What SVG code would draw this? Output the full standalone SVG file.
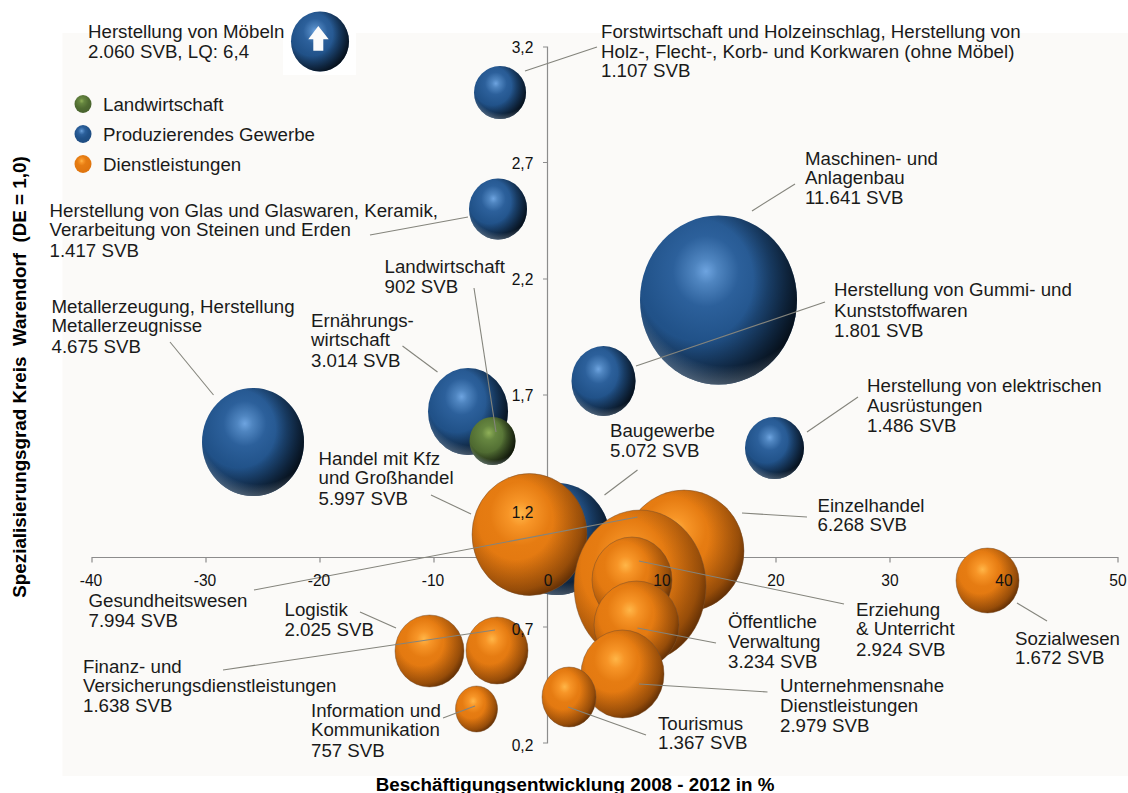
<svg xmlns="http://www.w3.org/2000/svg" width="1128" height="793" viewBox="0 0 1128 793">
<style>
text{font-family:"Liberation Sans",Arial,sans-serif;font-size:18.7px;fill:#1a1a1a}
.t{font-size:15.6px;fill:#111}
.m{text-anchor:middle}
.b{font-weight:bold;font-size:18.8px;fill:#000}
.ax{stroke:#8c8c8c;stroke-width:1.2;fill:none}
.ld{stroke:#84847c;stroke-width:1.1;fill:none}
.blue{fill:url(#gb)}.or{fill:url(#go)}.gr{fill:url(#gg)}
.sh{fill:url(#sh)}.rim{fill:url(#rim)}.so{fill:url(#so);stroke:#6a4a30;stroke-opacity:.55;stroke-width:.8}
</style>
<defs>
<radialGradient id="gb" cx="0.42" cy="0.33" r="0.75"><stop offset="0" stop-color="#6ea4e0"/><stop offset="0.1" stop-color="#4f85c0"/><stop offset="0.28" stop-color="#2c609b"/><stop offset="0.55" stop-color="#215289"/><stop offset="1" stop-color="#1d4a7e"/></radialGradient>
<radialGradient id="go" cx="0.42" cy="0.33" r="0.75"><stop offset="0" stop-color="#ffb648"/><stop offset="0.14" stop-color="#f79527"/><stop offset="0.35" stop-color="#e67c12"/><stop offset="1" stop-color="#dd720d"/></radialGradient>
<radialGradient id="gg" cx="0.42" cy="0.33" r="0.75"><stop offset="0" stop-color="#8fb058"/><stop offset="0.2" stop-color="#668640"/><stop offset="0.55" stop-color="#506c32"/><stop offset="1" stop-color="#46602c"/></radialGradient>
<radialGradient id="sh" cx="0.36" cy="0.38" r="0.72"><stop offset="0.5" stop-color="#000" stop-opacity="0"/><stop offset="0.8" stop-color="#000" stop-opacity="0.55"/><stop offset="1" stop-color="#000" stop-opacity="0.9"/></radialGradient>
<radialGradient id="so" cx="0.38" cy="0.38" r="0.72"><stop offset="0.45" stop-color="#1e0a00" stop-opacity="0"/><stop offset="0.8" stop-color="#1e0a00" stop-opacity="0.38"/><stop offset="1" stop-color="#1e0a00" stop-opacity="0.8"/></radialGradient>
<radialGradient id="rim" cx="0.55" cy="0.3" r="0.72"><stop offset="0.82" stop-color="#b8cfe6" stop-opacity="0"/><stop offset="1" stop-color="#b8cfe6" stop-opacity="0.4"/></radialGradient>
</defs>
<rect x="62.5" y="33" width="1065.5" height="743" fill="#fbfaf8"/>
<rect x="283" y="33" width="73" height="42" fill="#fff"/>
<g id="axes">
<path class="ax" d="M92 562.5V557.5H1118V562.5M206 557.5V562.5M320 557.5V562.5M434 557.5V562.5M548 557.5V562.5M662 557.5V562.5M776 557.5V562.5M890 557.5V562.5M1004 557.5V562.5"/>
<path class="ax" d="M543 47H547.5V743H543M543 162.500H547.5M543 279H547.500M543 395H547.5M543 511H547.500M543 627H547.5"/>
</g>
<g id="bubbles">
<g id="n-moebeln"><ellipse class="blue" cx="320" cy="41.500" rx="29" ry="30"/><ellipse class="sh" cx="320" cy="41.500" rx="29" ry="30"/><polygon points="318.300,26 328.700,39.300 323.300,39.300 323.300,50.700 313.300,50.700 313.300,39.300 308.300,39.300" fill="#fbfbfb"/></g>
<g id="n-forst"><ellipse class="blue" cx="500" cy="92.500" rx="26" ry="26.500"/><ellipse class="sh" cx="500" cy="92.500" rx="26" ry="26.500"/><ellipse class="rim" cx="500" cy="92.500" rx="26" ry="26.500"/></g>
<g id="n-glas"><ellipse class="blue" cx="498" cy="209" rx="29" ry="30.500"/><ellipse class="sh" cx="498" cy="209" rx="29" ry="30.500"/><ellipse class="rim" cx="498" cy="209" rx="29" ry="30.500"/></g>
<g id="n-maschinen"><ellipse class="blue" cx="718.500" cy="300" rx="78.500" ry="84.500"/><ellipse class="sh" cx="718.500" cy="300" rx="78.500" ry="84.500"/><ellipse class="rim" cx="718.500" cy="300" rx="78.500" ry="84.500"/></g>
<g id="n-gummi"><ellipse class="blue" cx="603.500" cy="381" rx="32" ry="35"/><ellipse class="sh" cx="603.500" cy="381" rx="32" ry="35"/><ellipse class="rim" cx="603.500" cy="381" rx="32" ry="35"/></g>
<g id="n-metall"><ellipse class="blue" cx="253" cy="442" rx="51" ry="54"/><ellipse class="sh" cx="253" cy="442" rx="51" ry="54"/><ellipse class="rim" cx="253" cy="442" rx="51" ry="54"/></g>
<g id="n-ernaehrung"><ellipse class="blue" cx="468" cy="411.500" rx="40" ry="43.500"/><ellipse class="sh" cx="468" cy="411.500" rx="40" ry="43.500"/><ellipse class="rim" cx="468" cy="411.500" rx="40" ry="43.500"/></g>
<g id="n-landwirtschaft"><ellipse class="gr" cx="492.500" cy="441" rx="23" ry="24"/><ellipse class="sh" cx="492.500" cy="441" rx="23" ry="24"/><ellipse class="rim" cx="492.500" cy="441" rx="23" ry="24"/></g>
<g id="n-elektro"><ellipse class="blue" cx="774.500" cy="448" rx="29.500" ry="31"/><ellipse class="sh" cx="774.500" cy="448" rx="29.500" ry="31"/><ellipse class="rim" cx="774.500" cy="448" rx="29.500" ry="31"/></g>
<g id="n-bau"><ellipse class="blue" cx="557" cy="539" rx="53" ry="56"/><ellipse class="sh" cx="557" cy="539" rx="53" ry="56"/><ellipse class="rim" cx="557" cy="539" rx="53" ry="56"/></g>
<g id="n-kfz"><ellipse class="or" cx="529.500" cy="534.500" rx="57.500" ry="61"/><ellipse class="so" cx="529.500" cy="534.500" rx="57.500" ry="61"/></g>
<g id="n-einzel"><ellipse class="or" cx="684" cy="551" rx="60" ry="61"/><ellipse class="so" cx="684" cy="551" rx="60" ry="61"/></g>
<g id="n-gesund"><ellipse class="or" cx="640" cy="586" rx="66" ry="76"/><ellipse class="so" cx="640" cy="586" rx="66" ry="76"/></g>
<g id="n-erziehung"><ellipse class="or" cx="632" cy="580" rx="40" ry="43"/><ellipse class="so" cx="632" cy="580" rx="40" ry="43"/></g>
<g id="n-oeffentlich"><ellipse class="or" cx="636.500" cy="625" rx="42.500" ry="44"/><ellipse class="so" cx="636.500" cy="625" rx="42.500" ry="44"/></g>
<g id="n-unternehmen"><ellipse class="or" cx="622.500" cy="674" rx="41.500" ry="44"/><ellipse class="so" cx="622.500" cy="674" rx="41.500" ry="44"/></g>
<g id="n-tourismus"><ellipse class="or" cx="569" cy="697" rx="27" ry="30"/><ellipse class="so" cx="569" cy="697" rx="27" ry="30"/></g>
<g id="n-sozial"><ellipse class="or" cx="987.500" cy="580.500" rx="31.500" ry="32.500"/><ellipse class="so" cx="987.500" cy="580.500" rx="31.500" ry="32.500"/></g>
<g id="n-logistik"><ellipse class="or" cx="429.500" cy="651" rx="34.500" ry="36"/><ellipse class="so" cx="429.500" cy="651" rx="34.500" ry="36"/></g>
<g id="n-finanz"><ellipse class="or" cx="497" cy="650.500" rx="31" ry="33.500"/><ellipse class="so" cx="497" cy="650.500" rx="31" ry="33.500"/></g>
<g id="n-info"><ellipse class="or" cx="476.500" cy="709" rx="21" ry="23"/><ellipse class="so" cx="476.500" cy="709" rx="21" ry="23"/></g>
</g>
<g id="legend">
<ellipse class="gr" cx="83" cy="104" rx="8.500" ry="9"/><ellipse class="blue" cx="83" cy="134" rx="8.500" ry="9"/><ellipse class="or" cx="83" cy="164" rx="8.500" ry="9"/>
<text x="103" y="110.500">Landwirtschaft</text><text x="103" y="140.500">Produzierendes Gewerbe</text><text x="103" y="170.500">Dienstleistungen</text>
</g>
<g id="connectors">
<path class="ld" d="M525 71L597 47"/><path class="ld" d="M370 235L468 217"/><path class="ld" d="M474 288L496 432"/><path class="ld" d="M170 342L213.500 395"/><path class="ld" d="M402.500 346L437.500 372"/><path class="ld" d="M431 495L471 514"/><path class="ld" d="M254 590L637.500 517"/><path class="ld" d="M360 612L396 628"/><path class="ld" d="M223 670L495 630"/><path class="ld" d="M443 718L475 706"/><path class="ld" d="M637.500 470L604.500 495"/><path class="ld" d="M807 432L858 397"/><path class="ld" d="M742 513L807 517"/><path class="ld" d="M639 561L844 604"/><path class="ld" d="M637.500 628L716 643"/><path class="ld" d="M639 684L767.500 692"/><path class="ld" d="M568 707L646 735"/><path class="ld" d="M1017 603L1047 621"/><path class="ld" d="M752 211L795 184"/><path class="ld" d="M636 366L825 302"/>
</g>
<g id="tick-labels">
<text class="t m" x="522.500" y="53">3,2</text><text class="t m" x="522.500" y="169">2,7</text><text class="t m" x="522.500" y="285">2,2</text><text class="t m" x="522.500" y="401">1,7</text><text class="t m" x="522.500" y="518">1,2</text><text class="t m" x="522.500" y="635">0,7</text><text class="t m" x="522.500" y="751">0,2</text>
<text class="t m" x="91" y="586">-40</text><text class="t m" x="205" y="586">-30</text><text class="t m" x="319" y="586">-20</text><text class="t m" x="433" y="586">-10</text><text class="t m" x="548" y="586">0</text><text class="t m" x="662" y="586">10</text><text class="t m" x="776" y="586">20</text><text class="t m" x="890" y="586">30</text><text class="t m" x="1004" y="586">40</text><text class="t m" x="1118" y="586">50</text>
</g>
<g id="labels">
<text x="88" y="38">Herstellung von Möbeln</text><text x="88" y="58">2.060 SVB, LQ: 6,4</text>
<text x="601" y="37.500">Forstwirtschaft und Holzeinschlag, Herstellung von</text><text x="601" y="57.500">Holz-, Flecht-, Korb- und Korkwaren (ohne Möbel)</text><text x="601" y="77">1.107 SVB</text>
<text x="805" y="165">Maschinen- und</text><text x="805" y="184">Anlagenbau</text><text x="805" y="204">11.641 SVB</text>
<text x="834" y="296">Herstellung von Gummi- und</text><text x="834" y="317">Kunststoffwaren</text><text x="834" y="337">1.801 SVB</text>
<text x="867" y="391.500">Herstellung von elektrischen</text><text x="867" y="411.500">Ausrüstungen</text><text x="867" y="431.500">1.486 SVB</text>
<text x="610" y="436.500">Baugewerbe</text><text x="610" y="456.500">5.072 SVB</text>
<text x="817.500" y="511.500">Einzelhandel</text><text x="817.500" y="530.500">6.268 SVB</text>
<text x="856" y="616">Erziehung</text><text x="856" y="635">&amp; Unterricht</text><text x="856" y="656">2.924 SVB</text>
<text x="728" y="627.500">Öffentliche</text><text x="728" y="648">Verwaltung</text><text x="728" y="668">3.234 SVB</text>
<text x="780" y="692">Unternehmensnahe</text><text x="780" y="712">Dienstleistungen</text><text x="780" y="732">2.979 SVB</text>
<text x="658" y="730">Tourismus</text><text x="658" y="749">1.367 SVB</text>
<text x="1015" y="645">Sozialwesen</text><text x="1015" y="664">1.672 SVB</text>
<text x="49.500" y="217">Herstellung von Glas und Glaswaren, Keramik,</text><text x="49.500" y="236">Verarbeitung von Steinen und Erden</text><text x="49.500" y="256.500">1.417 SVB</text>
<text x="51.500" y="313">Metallerzeugung, Herstellung</text><text x="51.500" y="332">Metallerzeugnisse</text><text x="51.500" y="352.500">4.675 SVB</text>
<text x="384.500" y="273">Landwirtschaft</text><text x="384.500" y="293">902 SVB</text>
<text x="311" y="327">Ernährungs-</text><text x="311" y="346">wirtschaft</text><text x="311" y="366.500">3.014 SVB</text>
<text x="318.500" y="465">Handel mit Kfz</text><text x="318.500" y="484">und Großhandel</text><text x="318.500" y="505">5.997 SVB</text>
<text x="88.500" y="607">Gesundheitswesen</text><text x="88.500" y="626.500">7.994 SVB</text>
<text x="284.500" y="616">Logistik</text><text x="284.500" y="636">2.025 SVB</text>
<text x="83" y="672.500">Finanz- und</text><text x="83" y="692">Versicherungsdienstleistungen</text><text x="83" y="712">1.638 SVB</text>
<text x="311" y="716.500">Information und</text><text x="311" y="736">Kommunikation</text><text x="311" y="756.500">757 SVB</text>
</g>
<text class="b m" x="575" y="790.500">Beschäftigungsentwicklung 2008 - 2012 in %</text>
<text class="b m" transform="translate(25.500 377) rotate(-90)">Spezialisierungsgrad Kreis &#160;Warendorf &#160;(DE = 1,0)</text>
</svg>
